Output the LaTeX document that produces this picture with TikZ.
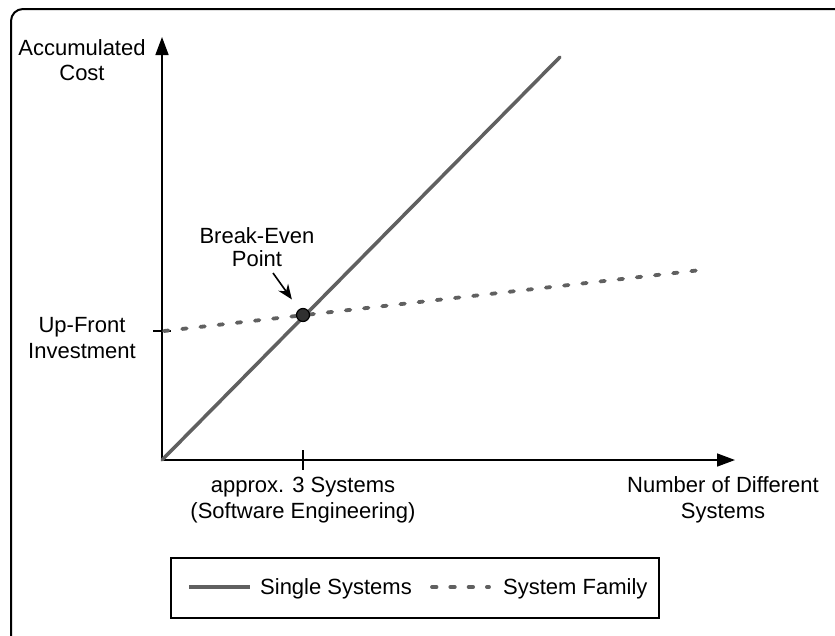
\documentclass[tikz,border=0pt]{standalone}
\usepackage{fontspec}
\setmainfont{Liberation Sans}
\usetikzlibrary{arrows.meta}
\definecolor{linegray}{HTML}{606060}
\definecolor{dotfill}{HTML}{303030}
\begin{document}
\begin{tikzpicture}[x=1pt,y=-1pt,
  lbl/.style={align=center,font=\fontsize{22}{25.5}\selectfont,inner sep=0pt},
  axisline/.style={line width=1.6pt,-{Triangle[length=18pt,width=13pt]}},
  tickmark/.style={line width=1.6pt},
  single/.style={line width=3.5pt,linegray},
  family/.style={line width=3.8pt,linegray,line cap=round,dash pattern=on 4.5pt off 13.8pt},
  pointer/.style={line width=1.6pt,-{Stealth[length=15pt,width=12pt,inset=5pt]}},
  bedot/.style={circle,fill=dotfill,draw=black,line width=1.2pt,minimum size=13pt,inner sep=0pt},
  legendbox/.style={draw,line width=1.5pt,minimum width=488pt,minimum height=60pt,inner sep=0pt}
]
\useasboundingbox (0,0) rectangle (835,635);
\draw[line width=2pt,rounded corners=12pt] (11,9) rectangle (870,670);

% axes
\coordinate (O) at (162,460);
\coordinate (ytip) at (162,37);
\coordinate (xtip) at (735,460);
\draw[axisline] (O) -- (ytip);
\draw[axisline] (O) -- (xtip);

% ticks
\coordinate (yt1) at (153,331);
\coordinate (yt2) at (171,331);
\draw[tickmark] (yt1) -- (yt2);
\coordinate (xt1) at (303,450);
\coordinate (xt2) at (303,470);
\draw[tickmark] (xt1) -- (xt2);

% curves
\coordinate (sEnd) at (560,57);
\draw[single,line cap=round] (O) -- (sEnd);
\coordinate (fStart) at (164,331);
\coordinate (fEnd) at (701,270);
\draw[family] (fStart) -- (fEnd);

% break-even point
\node[bedot] (be) at (303,315) {};
\coordinate (arStart) at (273,273);
\draw[pointer,shorten >=12pt] (arStart) -- (be);

% labels
\node[lbl] (ylab) at (82,60) {Accumulated\\Cost};
\node[lbl] (uplab) at (82,338) {Up-Front\\Investment};
\node[lbl,font=\fontsize{22}{23}\selectfont] (belab) at (257,247) {Break-Even\\Point};
\node[lbl] (xtlab) at (303,500) {approx. 3 Systems\\(Software Engineering)};
\node[lbl] (xlab) at (723,500) {Number of Different\\Systems};

% legend
\node[legendbox] (legend) at (415,588) {};
\coordinate (ls1) at (189,587);
\coordinate (ls2) at (250,587);
\draw[single] (ls1) -- (ls2);
\node[lbl,anchor=base west] (lsl) at (260,594) {Single Systems};
\coordinate (lf1) at (432,587);
\coordinate (lf2) at (489,587);
\draw[family] (lf1) -- (lf2);
\node[lbl,anchor=base west] (lfl) at (503,594) {System Family};
\end{tikzpicture}
\end{document}
